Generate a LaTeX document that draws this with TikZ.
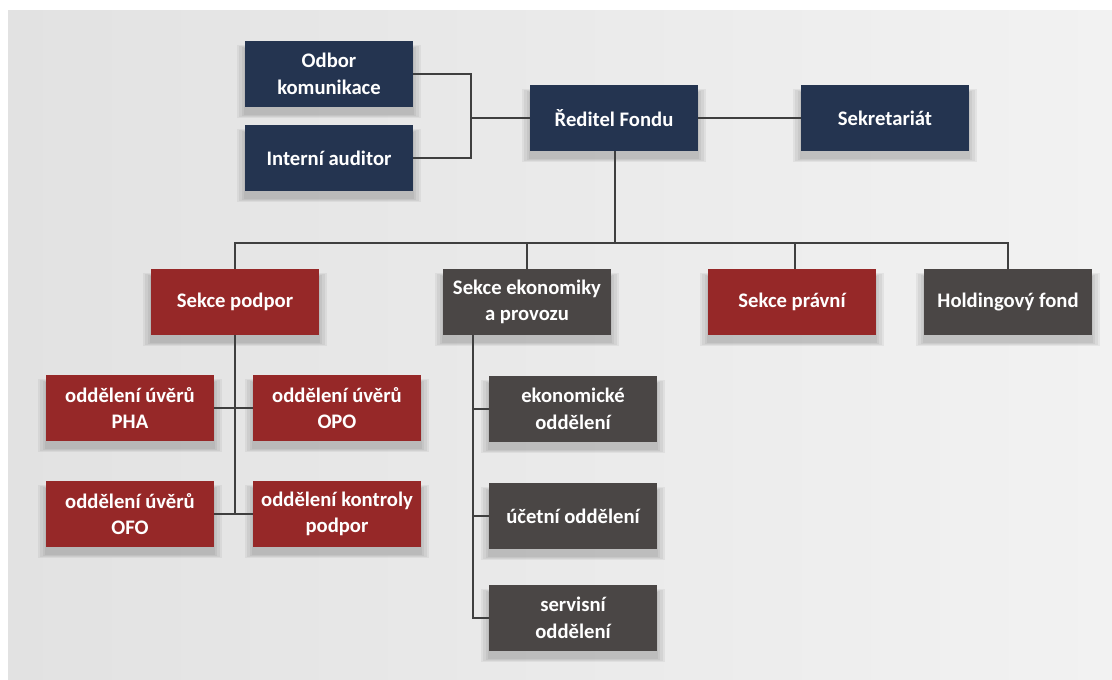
\documentclass[tikz,border=0pt]{standalone}
\usepackage{fontspec}
\setmainfont{Carlito}
\usetikzlibrary{shadows}
\definecolor{navy}{HTML}{243450}
\definecolor{wine}{HTML}{962828}
\definecolor{slate}{HTML}{4A4645}
\definecolor{wire}{HTML}{3F3F3F}
\definecolor{panelL}{HTML}{E2E2E2}
\definecolor{panelR}{HTML}{F2F2F2}
\tikzset{
  haze/.style={general shadow={fill=black, opacity=0.05, shadow scale=#1, shadow yshift=-5pt}},
  unit/.style={rectangle, minimum width=4.2cm, minimum height=1.66cm, inner sep=2pt,
    text=white, align=center, font=\fontsize{14.7}{19}\selectfont\bfseries,
    haze=1.10, haze=1.07, haze=1.04, haze=1.01},
  top/.style={unit, fill=navy},
  sect/.style={unit, fill=wine},
  misc/.style={unit, fill=slate},
  link/.style={draw=wire, line width=2.1pt}
}
\begin{document}
\begin{tikzpicture}[x=0.025cm, y=0.025cm]
    \useasboundingbox (0,0) rectangle (1112,-679);
    \shade[left color=panelL, right color=panelR] (8,-10) rectangle (1112,-679);

    \draw (329, -74) node[top](odbor){Odbor\\komunikace}
       (329, -158) node[top](auditor){Interní auditor}
       (614, -118) node[top](reditel){Ředitel Fondu}
       (885, -118) node[top](sekret){Sekretariát};

    \draw (235, -302) node[sect](podpor){Sekce podpor}
       (527, -302) node[misc](ekonom){Sekce ekonomiky\\a provozu}
       (792, -302) node[sect](pravni){Sekce právní}
       (1008, -302) node[misc](holding){Holdingový fond};

    \draw (130, -408) node[sect](pha){oddělení úvěrů\\PHA}
       (337, -408) node[sect](opo){oddělení úvěrů\\OPO}
       (130, -514) node[sect](ofo){oddělení úvěrů\\OFO}
       (337, -514) node[sect](kontrola){oddělení kontroly\\podpor};

    \draw (573, -409) node[misc](ekoodd){ekonomické\\oddělení}
       (573, -516) node[misc](ucetni){účetní oddělení}
       (573, -618) node[misc](servis){servisní\\oddělení};

    \coordinate (brk) at (471, -118);
    \coordinate (bus) at (615, -243);
    \coordinate (spine) at (473, -335);

    \draw[link] (odbor.east) -| (brk) |- (auditor.east);
    \draw[link] (brk) -- (reditel.west);
    \draw[link] (reditel) -- (sekret);
    \draw[link] (reditel.south -| bus) -- (bus);
    \draw[link] (podpor.north) |- (bus) -| (holding.north);
    \draw[link] (ekonom.north) -- (ekonom.north |- bus);
    \draw[link] (pravni.north) ++(3,0) -- ++(0,25.5);

    \draw[link] (podpor.south) -- (podpor.south |- kontrola.west);
    \draw[link] (pha.east) -- (opo.west);
    \draw[link] (ofo.east) -- (kontrola.west);

    \draw[link] (spine) |- (servis.west);
    \draw[link] (ekoodd.west) -- (ekoodd.west -| spine);
    \draw[link] (ucetni.west) -- (ucetni.west -| spine);
\end{tikzpicture}
\end{document}
